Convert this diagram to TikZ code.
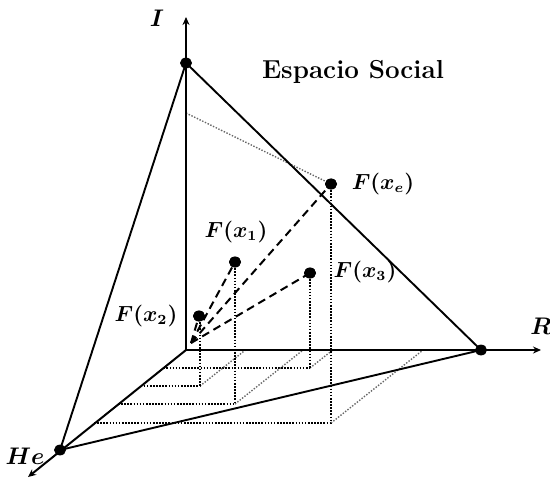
\documentclass[tikz,border=0pt]{standalone}
\usetikzlibrary{arrows.meta,shapes.geometric}
\begin{document}
\begin{tikzpicture}[x=0.5pt,y=-0.5pt,
  axis/.style={line width=1pt,-{Stealth[length=4pt,width=3.5pt]}},
  edge/.style={line width=0.95pt},
  proj/.style={line width=0.8pt,dash pattern=on 0.8pt off 0.75pt},
  diag/.style={line width=0.7pt,black!60,dash pattern=on 0.7pt off 0.8pt},
  ray/.style={line width=1pt,dash pattern=on 4pt off 2.5pt},
  dot/.style={ellipse,fill,inner sep=0pt,minimum width=6pt,minimum height=5.4pt},
  lab/.style={font=\fontsize{10.5}{12}\selectfont\boldmath},
  axlab/.style={font=\fontsize{13}{15}\selectfont\boldmath}]
\useasboundingbox (0,0) rectangle (550,479);
% geometry
\coordinate (O) at (186,350);
\coordinate (Itop) at (186,17);
\coordinate (Rend) at (541,350);
\coordinate (Hend) at (28,477);
\coordinate (I1) at (186,63);
\coordinate (R1) at (481,350);
\coordinate (He1) at (60,450);
\coordinate (S) at (191,343);
\coordinate (ie) at (186,113);
% floor points
\coordinate (f1) at (235,404);
\coordinate (f2) at (200,386);
\coordinate (f3) at (310,368);
\coordinate (fe) at (331,423);
% feet on He axis
\coordinate (h1) at (118,404);
\coordinate (h2) at (140.6,386);
\coordinate (h3) at (163.3,368);
\coordinate (he) at (94,423);
% feet on R axis
\coordinate (r1) at (303,350);
\coordinate (r2) at (245.4,350);
\coordinate (r3) at (332.7,350);
\coordinate (re) at (423,350);
% projection lines
\draw[proj] (h1) -- (f1);
\draw[proj] (h2) -- (f2);
\draw[proj] (h3) -- (f3);
\draw[proj] (he) -- (fe);
\draw[diag] (f1) -- (r1);
\draw[diag] (f2) -- (r2);
\draw[diag] (f3) -- (r3);
\draw[diag] (fe) -- (re);
\draw[diag] (ie) -- (331,184);
% axes
\draw[axis] (O) -- (Itop);
\draw[axis] (O) -- (Rend);
\draw[axis] (O) -- (Hend);
% triangle
\draw[edge] (I1) -- (R1) -- (He1) -- cycle;
% points
\node[dot] (p1) at (235,262) {};
\node[dot] (p2) at (199,316) {};
\node[dot] (p3) at (310,273) {};
\node[dot] (pe) at (331,184) {};
\draw[proj] (p1.center) -- (f1);
\draw[proj] (200,316) -- (f2);
\draw[proj] (p3.center) -- (f3);
\draw[proj] (pe.center) -- (fe);
\draw[ray] (S) -- (p1.center);
\draw[ray] (S) -- (p2.center);
\draw[ray] (S) -- (p3.center);
\draw[ray] (S) -- (pe.center);
\node[dot] (i1) at (I1) {};
\node[dot] (r1d) at (R1) {};
\node[dot] (he1) at (He1) {};
\node[dot] at (p1) {};
\node[dot] at (p2) {};
\node[dot] at (p3) {};
\node[dot] at (pe) {};
% labels
\node[axlab] (lI) at (157,18) {$I$};
\node[axlab] (lR) at (541,326) {$R$};
\node[axlab] (lHe) at (25,456) {$He$};
\node[font=\fontsize{13}{15}\selectfont\bfseries] (title) at (353,72) {Espacio Social};
\node[lab] (le) at (383,184) {$F(x_e)$};
\node[lab] (l1) at (236,232) {$F(x_1)$};
\node[lab] (l3) at (365,272) {$F(x_3)$};
\node[lab] (l2) at (146,316) {$F(x_2)$};
\end{tikzpicture}
\end{document}
